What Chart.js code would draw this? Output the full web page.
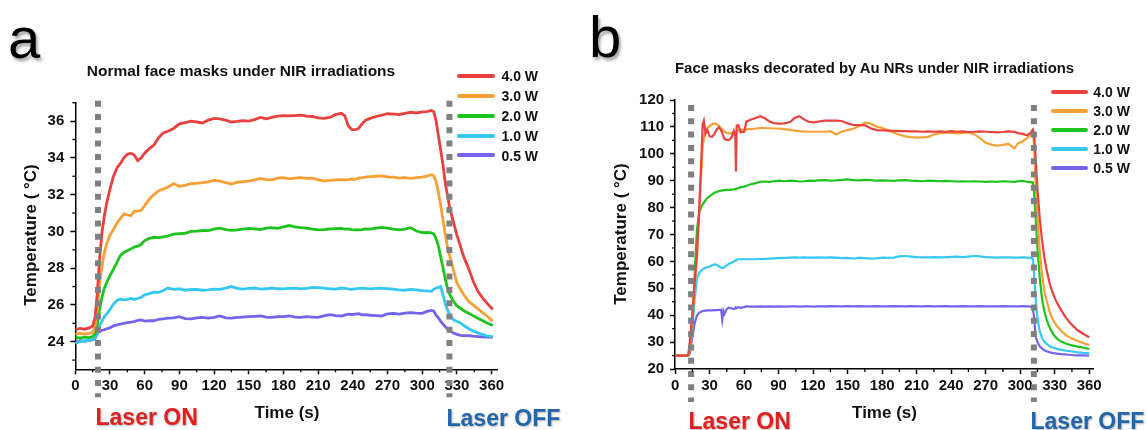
<!DOCTYPE html>
<html>
<head>
<meta charset="utf-8">
<title>Photothermal heating of face masks</title>
<script src="https://cdn.jsdelivr.net/npm/chart.js@4.4.1/dist/chart.umd.min.js"></script>
<style>
    html, body { margin: 0; padding: 0; background: #fff; }
    #figure { position: relative; width: 1147px; height: 430px; overflow: hidden;
              font-family: Arial, "Liberation Sans", sans-serif; color: #111; }
    canvas { position: absolute; top: 0; }
    #chartA { left: 0; }
    #chartB { left: 574px; }
    .txt { position: absolute; white-space: nowrap; line-height: 1; }
    .letter { font-size: 58px; color: #000; text-shadow: 2px 3px 3px rgba(0,0,0,0.35); }
    .title { font-weight: bold; transform: translateX(-50%); }
    .xtitle { font-size: 17px; font-weight: bold; transform: translateX(-50%); }
    .ytitle { font-size: 17px; font-weight: bold; transform: translate(-50%, -50%) rotate(-90deg); }
    .laser { font-size: 23px; font-weight: bold; text-shadow: 1px 1px 2px rgba(0,0,0,0.3); }
    .on { color: #e02020; }
    .off { color: #2166ac; }
    .leg-line { position: absolute; height: 4px; border-radius: 2px; }
    .leg-text { position: absolute; font-size: 14px; font-weight: bold; line-height: 1; white-space: nowrap; }
</style>
</head>
<body>
<div id="figure">
    <canvas id="chartA" width="573" height="430"></canvas>
    <canvas id="chartB" width="573" height="430"></canvas>

    <div class="txt letter" style="left:8px; top:9px;">a</div>
    <div class="txt letter" style="left:589px; top:8px;">b</div>

    <div class="txt title" style="left:241px; top:62.8px; font-size:15.5px;">Normal face masks under NIR irradiations</div>
    <div class="txt title" style="left:874.6px; top:61.4px; font-size:14.9px;">Face masks decorated by Au NRs under NIR irradiations</div>

    <div class="txt ytitle" style="left:29.5px; top:235px;">Temperature ( °C)</div>
    <div class="txt ytitle" style="left:620px; top:234px;">Temperature ( °C)</div>

    <div class="txt xtitle" style="left:287px; top:404px;">Time (s)</div>
    <div class="txt xtitle" style="left:884.5px; top:404px;">Time (s)</div>

    <div class="txt laser on" style="left:95.5px; top:405.5px;">Laser ON</div>
    <div class="txt laser off" style="left:446.5px; top:407px;">Laser OFF</div>
    <div class="txt laser on" style="left:688.5px; top:410px;">Laser ON</div>
    <div class="txt laser off" style="left:1030.5px; top:410px;">Laser OFF</div>

    <div id="legendA"></div>
    <div id="legendB"></div>
</div>

<script>
// ---- series labels / colours ----
const seriesLabels = ['4.0 W', '3.0 W', '2.0 W', '1.0 W', '0.5 W'];
const seriesColors = ['#e8413f', '#f7a035', '#1ec41e', '#35c8f2', '#7464ec'];

// ---- panel a: normal face masks ----
const timeA = [0,4,8,12,15,17,19,21,23,25, 27,30,33,36,39,42,45,48,51,54,
    57,60,64,68,72,76,80,85,90,95, 100,105,110,115,120,125,130,135,140,145,
    150,155,160,165,170,175,180,185,190,195, 200,205,210,215,220,225,230,233,236,239,
    242,245,248,251,255,260,265,270,275,280, 285,290,295,300,304,308,310,312,314,316,
    318,320,322,324,327,330,333,336,340,344, 348,352,356,361];

const a40W = [24.65,24.72,24.68,24.75,24.85,25.3,26.6,28.5,29.9,30.8,
    31.5,32.3,33.0,33.45,33.7,34.0,34.2,34.25,34.15,33.85,
    34.0,34.25,34.5,34.7,35.1,35.35,35.45,35.6,35.85,35.92,
    36.0,35.95,35.9,36.05,36.15,36.12,36.05,35.95,35.98,36.02,
    36.0,36.08,36.2,36.12,36.2,36.27,36.3,36.28,36.3,36.32,
    36.27,36.25,36.18,36.15,36.2,36.35,36.42,36.3,35.75,35.55,
    35.52,35.6,35.85,36.05,36.15,36.25,36.32,36.4,36.38,36.36,
    36.42,36.48,36.44,36.5,36.52,36.58,36.5,36.0,35.2,34.4,
    33.6,32.6,31.9,31.2,30.5,29.8,29.2,28.6,28.0,27.3,
    26.75,26.4,26.1,25.75];
const a30W = [24.4,24.45,24.42,24.45,24.5,24.8,25.8,27.1,28.1,28.8,
    29.3,29.8,30.1,30.45,30.7,30.95,30.9,30.85,31.1,31.1,
    31.15,31.4,31.75,32.0,32.2,32.3,32.4,32.6,32.45,32.5,
    32.6,32.62,32.65,32.7,32.78,32.73,32.65,32.58,32.68,32.7,
    32.73,32.8,32.88,32.82,32.8,32.9,32.92,32.86,32.9,32.92,
    32.88,32.9,32.8,32.75,32.77,32.8,32.82,32.8,32.82,32.85,
    32.83,32.9,32.92,32.95,32.98,33.0,33.02,32.96,32.95,32.9,
    32.92,32.88,32.92,32.95,33.0,33.08,33.02,32.7,32.1,31.4,
    30.6,29.8,29.1,28.6,27.9,27.2,26.85,26.55,26.2,26.0,
    25.8,25.6,25.4,25.12];
const a20W = [24.25,24.2,24.25,24.22,24.28,24.4,24.9,25.8,26.4,26.9,
    27.2,27.6,27.95,28.3,28.7,28.85,28.95,29.05,29.15,29.2,
    29.3,29.5,29.62,29.68,29.66,29.7,29.75,29.85,29.88,29.9,
    30.0,30.02,30.05,30.04,30.12,30.18,30.1,30.06,30.08,30.12,
    30.16,30.14,30.1,30.18,30.2,30.17,30.25,30.32,30.25,30.2,
    30.18,30.12,30.08,30.1,30.13,30.15,30.16,30.12,30.13,30.1,
    30.08,30.08,30.1,30.14,30.12,30.18,30.22,30.18,30.12,30.08,
    30.12,30.2,30.02,29.93,29.95,29.92,29.86,29.6,29.2,28.6,
    28.0,27.4,26.85,26.55,26.2,25.95,25.82,25.68,25.55,25.42,
    25.28,25.15,25.02,24.88];
const a10W = [23.9,24.02,24.05,24.08,24.12,24.22,24.45,24.87,25.1,25.35,
    25.5,25.75,26.05,26.25,26.32,26.28,26.3,26.35,26.3,26.35,
    26.42,26.55,26.62,26.7,26.68,26.78,26.92,26.85,26.88,26.8,
    26.85,26.84,26.8,26.82,26.86,26.85,26.92,27.0,26.9,26.86,
    26.9,26.92,26.86,26.88,26.92,26.88,26.87,26.9,26.92,26.88,
    26.9,26.96,26.94,26.92,26.88,26.86,26.92,26.9,26.87,26.85,
    26.88,26.9,26.92,26.9,26.87,26.9,26.92,26.88,26.86,26.82,
    26.8,26.85,26.82,26.78,26.76,26.74,26.85,26.92,26.96,27.0,
    26.55,26.05,25.7,25.45,25.2,25.1,25.02,24.88,24.72,24.58,
    24.48,24.4,24.32,24.27];
const a05W = [23.95,24.05,24.02,24.08,24.1,24.18,24.42,24.58,24.62,24.65,
    24.7,24.76,24.86,24.92,24.96,25.0,25.04,25.06,25.1,25.16,
    25.18,25.12,25.15,25.14,25.22,25.24,25.28,25.3,25.36,25.26,
    25.24,25.3,25.32,25.28,25.33,25.4,25.3,25.28,25.32,25.34,
    25.36,25.38,25.4,25.34,25.32,25.36,25.36,25.4,25.34,25.32,
    25.36,25.34,25.32,25.4,25.47,25.42,25.4,25.45,25.5,25.48,
    25.5,25.52,25.46,25.47,25.44,25.42,25.4,25.52,25.54,25.5,
    25.55,25.58,25.55,25.54,25.65,25.7,25.66,25.45,25.3,25.1,
    24.95,24.82,24.7,24.6,24.47,24.4,24.35,24.33,24.33,24.3,
    24.28,24.26,24.25,24.24];

// ---- panel b: Au NR decorated masks ----
const timeB = [0,5,10,11.5,13,15,17,19,21,23, 24,25,26.5,28,30,32,34,36,38,40,
    41,42,43,45,47,49,51,52.4,52.9,53.5, 55,57,60,62,65,70,74,78,82,86,
    90,95,100,104,108,112,116,120,125,130, 135,140,145,150,155,160,165,170,175,180,
    185,190,195,200,205,210,215,220,225,230, 235,240,245,250,255,260,265,270,275,280,
    285,290,295,298,302,306,309,311,312,313.5, 315,317,319,321,323,326,329,332,336,340,
    345,350,355,360];

const b40W = [25,25,25,25.2,31,40,52,63,80,100,
    111,112.3,107.5,108.9,106.5,106.3,107.2,108.9,109.9,108.8,
    107.6,106.5,105.5,105.2,105.2,106.0,108.5,106.4,93.4,110.5,
    110.7,108.0,108.2,112.0,112.6,113.3,114.0,113.2,112.0,111.4,
    111.2,111.3,111.8,113.3,114.0,112.8,111.9,111.7,112.0,112.3,
    112.3,112.3,112.2,111.3,110.7,110.7,110.6,109.5,108.8,108.7,
    108.6,108.5,108.4,108.4,108.3,108.3,108.2,108.3,108.2,108.3,
    108.2,108.4,108.2,108.3,108.1,108.2,108.3,108.2,108.1,108.0,
    108.1,108.3,108.2,107.7,107.4,106.9,107.8,109.0,107.5,98,
    87,76,68,61.5,56.8,51.2,47.5,44.6,41.6,38.9,
    36.4,34.4,33.0,31.8];
const b30W = [25,25,25,25.1,30,39,50,62,78,95,
    103,105.5,108.3,109.5,110.3,111.0,111.3,111.0,110.5,109.4,
    109.0,108.6,108.2,107.8,107.6,107.6,108.0,108.2,108.3,108.5,
    108.7,108.9,109.0,109.1,109.2,109.4,109.6,109.6,109.5,109.4,
    109.4,109.2,108.9,108.6,108.4,108.3,108.2,108.2,108.2,108.2,
    108.4,107.2,108.3,108.8,109.3,110.3,111.6,111.2,110.1,109.6,
    108.8,107.8,107.1,106.5,106.2,106.0,106.1,106.3,107.2,107.7,
    107.9,107.8,107.6,107.8,107.9,107.3,105.8,104.1,103.4,103.0,
    103.3,103.7,102.0,103.9,104.6,105.8,107.0,108.2,104,88,
    77,64,55,49,45.5,40.7,37.8,35.9,34.0,32.5,
    31.3,30.4,29.6,28.9];
const b20W = [25,25,25,25.1,28,38,55,72,78.2,80.4,
    81.2,81.9,82.8,83.6,84.3,84.9,85.4,85.8,86.1,86.3,
    86.4,86.4,86.5,86.6,86.6,86.7,86.8,86.9,87.0,87.1,
    87.3,87.6,87.8,88.1,88.6,89.1,89.6,89.7,89.6,89.8,
    90.0,89.8,90.0,89.9,89.7,89.8,90.0,89.9,90.1,90.2,
    90.0,90.1,90.3,90.5,90.2,90.1,90.3,90.2,90.0,90.1,
    90.0,89.9,90.1,90.2,90.0,89.9,89.8,90.0,89.9,89.8,
    89.9,89.8,89.7,89.8,89.7,89.8,89.7,89.6,89.7,89.6,
    89.8,89.7,89.6,89.8,89.9,89.6,89.5,89.4,86,76,
    65,54,46,41.5,38.3,35,32.7,31.3,30.1,29.4,
    28.8,28.3,27.9,27.5];
const b10W = [25,25,25,25.1,27,35,46,53.5,55.8,56.6,
    57.0,57.3,57.6,57.8,58.1,58.5,58.9,58.8,58.2,57.7,
    57.5,57.6,57.9,58.6,59.1,59.6,60.0,60.3,60.4,60.6,
    60.8,60.8,60.8,60.8,60.8,60.8,60.9,60.9,61.0,61.1,
    61.2,61.3,61.4,61.5,61.4,61.5,61.4,61.4,61.5,61.4,
    61.5,61.4,61.2,61.3,61.0,61.4,61.2,61.0,61.1,61.4,
    61.3,61.4,61.9,62.0,61.8,61.6,61.5,61.5,61.6,61.5,
    61.5,61.7,61.8,61.6,61.8,62.0,61.9,61.6,61.5,61.4,
    61.5,61.5,61.4,61.4,61.5,61.4,61.3,61.0,55.7,45.8,
    39,34,31.5,30.2,29.3,28.4,27.9,27.5,27.1,26.8,
    26.5,26.2,26.0,25.9];
const b05W = [25,25,25,25.1,26,32,37,39.8,41.0,41.4,
    41.5,41.6,41.7,41.8,41.8,41.8,41.9,41.9,42.0,42.0,
    38.3,41.6,40.5,42.4,42.8,42.6,42.3,42.5,42.8,42.6,
    43.0,42.7,43.0,43.3,43.2,43.2,43.3,43.2,43.3,43.2,
    43.3,43.2,43.3,43.3,43.2,43.3,43.3,43.2,43.3,43.3,
    43.4,43.3,43.3,43.4,43.3,43.4,43.3,43.3,43.4,43.3,
    43.3,43.4,43.3,43.3,43.4,43.3,43.3,43.4,43.3,43.3,
    43.4,43.3,43.3,43.4,43.3,43.3,43.4,43.3,43.3,43.3,
    43.4,43.3,43.3,43.3,43.4,43.3,43.2,42.8,39.5,32.1,
    30.0,28.4,27.6,27.0,26.6,26.2,25.9,25.7,25.5,25.4,
    25.2,25.1,25.05,25.0];

// ---- ticks and laser switching times ----
const xTicks = [0, 30, 60, 90, 120, 150, 180, 210, 240, 270, 300, 330, 360];
const yTicksA = [24, 26, 28, 30, 32, 34, 36];
const yTicksB = [20, 30, 40, 50, 60, 70, 80, 90, 100, 110, 120];
const laserA = [19.6, 323.5];
const laserB = [13.9, 311.9];

Chart.defaults.font.family = 'Arial, "Liberation Sans", sans-serif';
Chart.defaults.color = '#111';

// midpoints between major ticks, plus one beyond the last one
function minorOf(major) {
    const step = major[1] - major[0];
    const out = major.map(v => v + step / 2);
    out.unshift(major[0] - step / 2);
    return out;
}

// minor tick marks on both axes
const minorTicks = {
    id: 'minorTicks',
    afterDraw(chart, args, opts) {
        const { ctx, chartArea, scales } = chart;
        ctx.save();
        ctx.strokeStyle = '#000';
        ctx.lineWidth = 1.3;
        opts.x.forEach(v => {
            if (v < scales.x.min || v > scales.x.max) return;
            const px = scales.x.getPixelForValue(v);
            ctx.beginPath();
            ctx.moveTo(px, chartArea.bottom);
            ctx.lineTo(px, chartArea.bottom + 3);
            ctx.stroke();
        });
        opts.y.forEach(v => {
            if (v < scales.y.min || v > scales.y.max) return;
            const py = scales.y.getPixelForValue(v);
            ctx.beginPath();
            ctx.moveTo(chartArea.left, py);
            ctx.lineTo(chartArea.left - 3, py);
            ctx.stroke();
        });
        ctx.restore();
    }
};

// grey square-dotted lines marking laser on / off
const laserLines = {
    id: 'laserLines',
    afterDatasetsDraw(chart, args, opts) {
        const { ctx, chartArea, scales } = chart;
        ctx.save();
        ctx.strokeStyle = '#808080';
        ctx.lineWidth = 6;
        ctx.setLineDash([6, 7.3]);
        opts.times.forEach(t => {
            const px = scales.x.getPixelForValue(t);
            ctx.beginPath();
            ctx.moveTo(px, chartArea.top + opts.top);
            ctx.lineTo(px, chartArea.bottom + opts.bottom);
            ctx.stroke();
        });
        ctx.restore();
    }
};

function makeChart(canvasId, p) {
    const ctx = document.getElementById(canvasId).getContext('2d');
    return new Chart(ctx, {
        type: 'line',
        data: {
            datasets: p.series.map((vals, i) => ({
                label: seriesLabels[i],
                data: p.time.map((t, j) => ({ x: t, y: vals[j] })),
                borderColor: seriesColors[i],
                borderWidth: p.lineWidth,
                pointRadius: 0,
                tension: 0,
                fill: false
            }))
        },
        options: {
            responsive: false,
            animation: false,
            devicePixelRatio: 1,
            events: [],
            layout: { padding: p.padding },
            plugins: {
                legend: { display: false },
                tooltip: { enabled: false },
                minorTicks: { x: minorOf(xTicks), y: minorOf(p.yTicks) },
                laserLines: { times: p.laser, top: p.dotTop, bottom: p.dotBottom }
            },
            scales: {
                x: {
                    type: 'linear',
                    min: 0,
                    max: p.xMax,
                    afterBuildTicks: s => { s.ticks = xTicks.map(v => ({ value: v })); },
                    afterFit: s => { s.height = 40; },
                    grid: { drawOnChartArea: false, drawTicks: true, tickLength: 5, tickWidth: 1.5, tickColor: '#000' },
                    border: { color: '#000', width: 1.5 },
                    ticks: { autoSkip: false, maxRotation: 0, padding: 3, color: '#111',
                             font: { size: 15, weight: 'bold' } }
                },
                y: {
                    type: 'linear',
                    min: p.yMin,
                    max: p.yMax,
                    afterBuildTicks: s => { s.ticks = p.yTicks.map(v => ({ value: v })); },
                    afterFit: s => { s.width = 45; },
                    grid: { drawOnChartArea: false, drawTicks: true, tickLength: 5, tickWidth: 1.5, tickColor: '#000' },
                    border: { color: '#000', width: 1.5 },
                    ticks: { padding: 6, color: '#111', font: { size: 15, weight: 'bold' } }
                }
            }
        },
        plugins: [minorTicks, laserLines]
    });
}

makeChart('chartA', {
    time: timeA,
    series: [a40W, a30W, a20W, a10W, a05W],
    yTicks: yTicksA, yMin: 22.5, yMax: 37, xMax: 365,
    laser: laserA, dotTop: -2, dotBottom: 28,
    lineWidth: 2.8,
    padding: { left: 30.3, top: 102.7, right: 75.6, bottom: 20.7 }
});

makeChart('chartB', {
    time: timeB,
    series: [b40W, b30W, b20W, b10W, b05W],
    yTicks: yTicksB, yMin: 20, yMax: 120, xMax: 364,
    laser: laserB, dotTop: 5, dotBottom: 33,
    lineWidth: 2.2,
    padding: { left: 56.1, top: 100, right: 53.2, bottom: 21 }
});

// legends
function buildLegend(id, lineLeft, lineWidth, textLeft, firstRow, rowGap) {
    const box = document.getElementById(id);
    seriesLabels.forEach((label, i) => {
        const y = firstRow + i * rowGap;
        const line = document.createElement('div');
        line.className = 'leg-line';
        line.style.left = lineLeft + 'px';
        line.style.width = lineWidth + 'px';
        line.style.top = (y - 2) + 'px';
        line.style.background = seriesColors[i];
        box.appendChild(line);

        const text = document.createElement('div');
        text.className = 'leg-text';
        text.style.left = textLeft + 'px';
        text.style.top = (y - 6.9) + 'px';
        text.textContent = label;
        box.appendChild(text);
    });
}

buildLegend('legendA', 457, 38, 501.5, 75.8, 19.9);
buildLegend('legendB', 1051, 37, 1093.3, 92.3, 19);
</script>
</body>
</html>
